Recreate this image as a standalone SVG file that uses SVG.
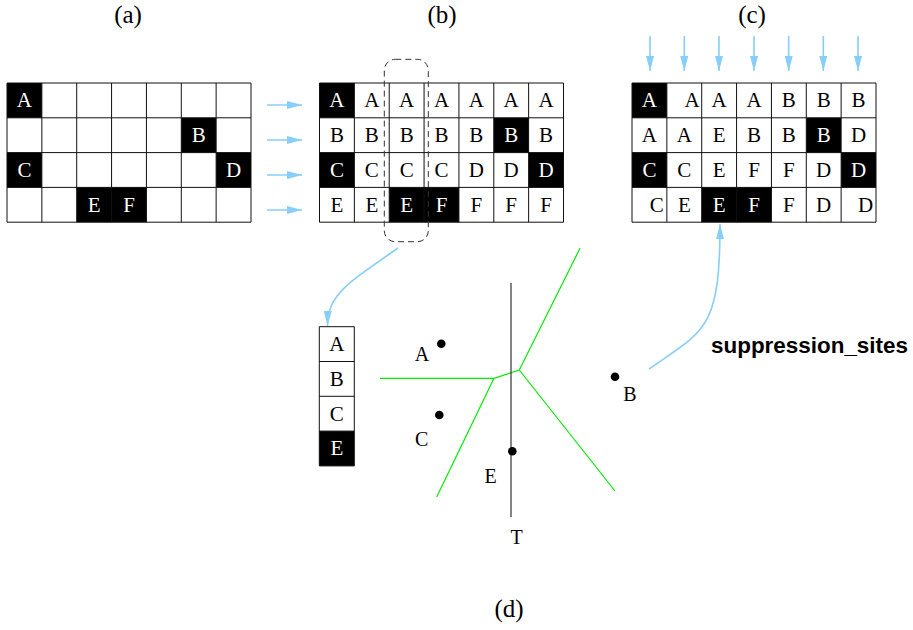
<svg xmlns="http://www.w3.org/2000/svg" xmlns:xlink="http://www.w3.org/1999/xlink" width="913" height="630" viewBox="0 0 913 630">
<style>
.t{font-family:"Liberation Serif","Times New Roman",serif;font-size:21px;text-anchor:middle;fill:#000}
.s{font-family:"Liberation Serif","Times New Roman",serif;font-size:20px;text-anchor:middle;fill:#000}
.w{fill:#fff}
.title{font-family:"Liberation Serif","Times New Roman",serif;font-size:25px;text-anchor:middle;fill:#000}
.grid{fill:none;stroke:#111;stroke-width:1}
.blk{fill:#000}
.arr{fill:none;stroke:#87CEFA;stroke-width:1.6}
.vor{fill:none;stroke:#00EE00;stroke-width:1.2}
.dot{fill:#000}
</style>
<defs>
<marker id="ah" markerUnits="userSpaceOnUse" viewBox="0 0 15 8" refX="15" refY="4" markerWidth="15" markerHeight="8" orient="auto">
<path d="M0,0 L15,4 L0,8 z" fill="#87CEFA"/>
</marker>
<path id="gl" d="M0,0H244M0,34.8H244M0,69.6H244M0,104.4H244M0,139.2H244M0,0V139.2M34.86,0V139.2M69.71,0V139.2M104.57,0V139.2M139.43,0V139.2M174.29,0V139.2M209.14,0V139.2M244,0V139.2"/>
<g id="blacks">
<rect x="0" y="0" width="34.86" height="34.8"/>
<rect x="174.29" y="34.8" width="34.86" height="34.8"/>
<rect x="0" y="69.6" width="34.86" height="34.8"/>
<rect x="209.14" y="69.6" width="34.86" height="34.8"/>
<rect x="69.71" y="104.4" width="69.72" height="34.8"/>
</g>
</defs>

<text class="title" x="128" y="23">(a)</text>
<text class="title" x="442" y="23">(b)</text>
<text class="title" x="752" y="23">(c)</text>
<text class="title" x="509" y="617">(d)</text>

<g id="grid-a" transform="translate(7,83)">
<use xlink:href="#blacks" class="blk"/>
<use xlink:href="#gl" class="grid"/>
<text class="t w" x="17.43" y="24.4">A</text>
<text class="t w" x="191.71" y="59.2">B</text>
<text class="t w" x="17.43" y="94">C</text>
<text class="t w" x="226.57" y="94">D</text>
<text class="t w" x="87.14" y="128.8">E</text>
<text class="t w" x="122" y="128.8">F</text>
</g>

<g id="grid-b" transform="translate(319.5,83)">
<use xlink:href="#blacks" class="blk"/>
<use xlink:href="#gl" class="grid"/>
<text class="t w" x="17.43" y="24.4">A</text>
<text class="t" x="52.29" y="24.4">A</text>
<text class="t" x="87.14" y="24.4">A</text>
<text class="t" x="122" y="24.4">A</text>
<text class="t" x="156.86" y="24.4">A</text>
<text class="t" x="191.71" y="24.4">A</text>
<text class="t" x="226.57" y="24.4">A</text>
<text class="t" x="17.43" y="59.2">B</text>
<text class="t" x="52.29" y="59.2">B</text>
<text class="t" x="87.14" y="59.2">B</text>
<text class="t" x="122" y="59.2">B</text>
<text class="t" x="156.86" y="59.2">B</text>
<text class="t w" x="191.71" y="59.2">B</text>
<text class="t" x="226.57" y="59.2">B</text>
<text class="t w" x="17.43" y="94">C</text>
<text class="t" x="52.29" y="94">C</text>
<text class="t" x="87.14" y="94">C</text>
<text class="t" x="122" y="94">C</text>
<text class="t" x="156.86" y="94">D</text>
<text class="t" x="191.71" y="94">D</text>
<text class="t w" x="226.57" y="94">D</text>
<text class="t" x="17.43" y="128.8">E</text>
<text class="t" x="52.29" y="128.8">E</text>
<text class="t w" x="87.14" y="128.8">E</text>
<text class="t w" x="122" y="128.8">F</text>
<text class="t" x="156.86" y="128.8">F</text>
<text class="t" x="191.71" y="128.8">F</text>
<text class="t" x="226.57" y="128.8">F</text>
</g>

<g id="selection">
<rect x="384.3" y="59.3" width="44" height="182.4" rx="11" ry="11" fill="none" stroke="#333" stroke-width="1" stroke-dasharray="6,4"/>
</g>

<g id="grid-c" transform="translate(632,83)">
<use xlink:href="#blacks" class="blk"/>
<use xlink:href="#gl" class="grid"/>
<text class="t w" x="17.43" y="24.4">A</text>
<text class="t" x="60" y="24.4">A</text>
<text class="t" x="87.14" y="24.4">A</text>
<text class="t" x="122" y="24.4">A</text>
<text class="t" x="156.86" y="24.4">B</text>
<text class="t" x="191.71" y="24.4">B</text>
<text class="t" x="226.57" y="24.4">B</text>
<text class="t" x="17.43" y="59.2">A</text>
<text class="t" x="52.29" y="59.2">A</text>
<text class="t" x="87.14" y="59.2">E</text>
<text class="t" x="122" y="59.2">B</text>
<text class="t" x="156.86" y="59.2">B</text>
<text class="t w" x="191.71" y="59.2">B</text>
<text class="t" x="226.57" y="59.2">D</text>
<text class="t w" x="17.43" y="94">C</text>
<text class="t" x="52.29" y="94">C</text>
<text class="t" x="87.14" y="94">E</text>
<text class="t" x="122" y="94">F</text>
<text class="t" x="156.86" y="94">F</text>
<text class="t" x="191.71" y="94">D</text>
<text class="t w" x="226.57" y="94">D</text>
<text class="t" x="24.8" y="128.8">C</text>
<text class="t" x="52.29" y="128.8">E</text>
<text class="t w" x="87.14" y="128.8">E</text>
<text class="t w" x="122" y="128.8">F</text>
<text class="t" x="156.86" y="128.8">F</text>
<text class="t" x="191.71" y="128.8">D</text>
<text class="t" x="233.6" y="128.8">D</text>
</g>

<g id="column" transform="translate(319.3,326.7)">
<rect x="0" y="104.4" width="35" height="34.8" class="blk"/>
<path class="grid" d="M0,0H35M0,34.8H35M0,69.6H35M0,104.4H35M0,139.2H35M0,0V139.2M35,0V139.2"/>
<text class="t" x="17.5" y="24.4">A</text>
<text class="t" x="17.5" y="59.2">B</text>
<text class="t" x="17.5" y="94">C</text>
<text class="t w" x="17.5" y="128.8">E</text>
</g>

<g id="voronoi">
<path class="vor" d="M380,378.3 L494,378.3 L519.3,370 L580,248.3 M494,378.3 L436.7,497 M519.3,370 L615,491"/>
<line x1="511" y1="283" x2="511" y2="517" stroke="#333" stroke-width="1.2"/>
</g>

<g id="site-A"><circle class="dot" cx="441.3" cy="343.7" r="4.3"/><text class="s" x="422" y="361">A</text></g>
<g id="site-C"><circle class="dot" cx="439.3" cy="415" r="4.3"/><text class="s" x="421.7" y="446">C</text></g>
<g id="site-E"><circle class="dot" cx="512.3" cy="451.3" r="4.3"/><text class="s" x="490.7" y="483">E</text></g>
<g id="site-B"><circle class="dot" cx="615" cy="376.7" r="4.3"/><text class="s" x="630" y="400.5">B</text></g>
<g id="label-T"><text class="s" x="516.7" y="544">T</text></g>
<g id="label-suppression"><text x="711" y="352.7" font-family="'Liberation Sans',Arial,sans-serif" font-weight="bold" font-size="22.5" textLength="197" lengthAdjust="spacingAndGlyphs">suppression_sites</text></g>

<g id="connectors">
<line class="arr" x1="267" y1="105" x2="302" y2="105" marker-end="url(#ah)"/>
<line class="arr" x1="267" y1="140" x2="302" y2="140" marker-end="url(#ah)"/>
<line class="arr" x1="267" y1="175" x2="302" y2="175" marker-end="url(#ah)"/>
<line class="arr" x1="267" y1="210" x2="302" y2="210" marker-end="url(#ah)"/>
<line class="arr" x1="650" y1="36" x2="650" y2="71" marker-end="url(#ah)"/>
<line class="arr" x1="684.3" y1="36" x2="684.3" y2="71" marker-end="url(#ah)"/>
<line class="arr" x1="719" y1="36" x2="719" y2="71" marker-end="url(#ah)"/>
<line class="arr" x1="754" y1="36" x2="754" y2="71" marker-end="url(#ah)"/>
<line class="arr" x1="788.7" y1="36" x2="788.7" y2="71" marker-end="url(#ah)"/>
<line class="arr" x1="823.3" y1="36" x2="823.3" y2="71" marker-end="url(#ah)"/>
<line class="arr" x1="858" y1="36" x2="858" y2="71" marker-end="url(#ah)"/>
<path class="arr" d="M398,248 C345,285 328,295 327.5,326" marker-end="url(#ah)"/>
<path class="arr" d="M649,369 C705,330 720,330 720,224" marker-end="url(#ah)"/>
</g>
</svg>
